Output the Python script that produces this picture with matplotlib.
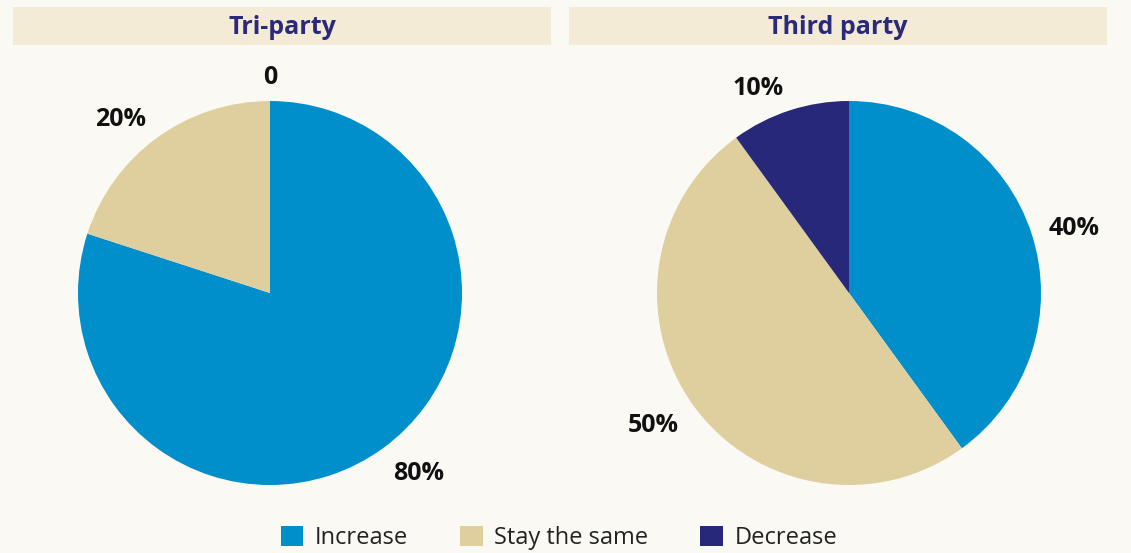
import numpy as np
import matplotlib.pyplot as plt
from matplotlib.patches import Patch, Rectangle

plt.rcParams['font.family'] = ['Open Sans', 'DejaVu Sans']

# survey responses, share of respondents (%)
categories = ['Increase', 'Stay the same', 'Decrease']
panel_titles = ['Tri-party', 'Third party']
tri_party = [80, 20, 0]
third_party = [40, 50, 10]
colors = ['#008fcb', '#e0cf9e', '#28287a']

BG = '#faf9f4'
BAR = '#f3ebd6'
NAVY = '#2b2a7a'

W, H = 1131, 553
fig = plt.figure(figsize=(W / 100, H / 100), dpi=100, facecolor=BG)


def px_box(cx, cy, r):
    # axes rectangle (figure fraction) for a pie centred at pixel (cx, cy)
    return [(cx - r) / W, (H - cy - r) / H, 2 * r / W, 2 * r / H]


def draw_pie(ax, values):
    wedges, _ = ax.pie(values, colors=colors, startangle=90, counterclock=False,
                       wedgeprops=dict(linewidth=0))
    # labels sit just outside the rim, text box pushed away from the pie
    for w, v in zip(wedges, values):
        theta = np.deg2rad((w.theta1 + w.theta2) / 2)
        c, s = np.cos(theta), np.sin(theta)
        ha = 'left' if c > 0.1 else ('right' if c < -0.1 else 'center')
        txt = '0' if v == 0 else f'{v}%'
        ax.annotate(txt, (1.094 * c, 1.094 * s), xytext=(0, 6.5 * s - 2.5),
                    textcoords='offset points', ha=ha, va='center',
                    fontsize=18, fontweight='bold', color='#111111',
                    annotation_clip=False)
    ax.set_xlim(-1, 1)
    ax.set_ylim(-1, 1)
    ax.set_aspect('equal')
    ax.axis('off')


centres = [(270, 293), (849, 293)]
bars = [(13, 551), (569, 1107)]
for (cx, cy), (x0, x1), title, vals in zip(centres, bars, panel_titles,
                                            [tri_party, third_party]):
    fig.patches.append(Rectangle((x0 / W, 1 - 45 / H), (x1 - x0) / W, 38 / H,
                                 transform=fig.transFigure, facecolor=BAR,
                                 edgecolor='none', zorder=0))
    fig.text((x0 + x1) / 2 / W, 1 - 27 / H, title, ha='center', va='center',
             fontsize=18, fontweight='bold', color=NAVY)
    ax = fig.add_axes(px_box(cx, cy, 192))
    draw_pie(ax, vals)

handles = [Patch(facecolor=c, edgecolor='none') for c in colors]
fig.legend(handles, categories, loc='center', bbox_to_anchor=(559 / W, 1 - 538 / H),
           ncol=3, frameon=False, fontsize=17, handlelength=0.95, handleheight=0.95,
           handletextpad=0.5, columnspacing=2.2, labelcolor='#222222')

fig.savefig('out.png', dpi=100, facecolor=BG)
